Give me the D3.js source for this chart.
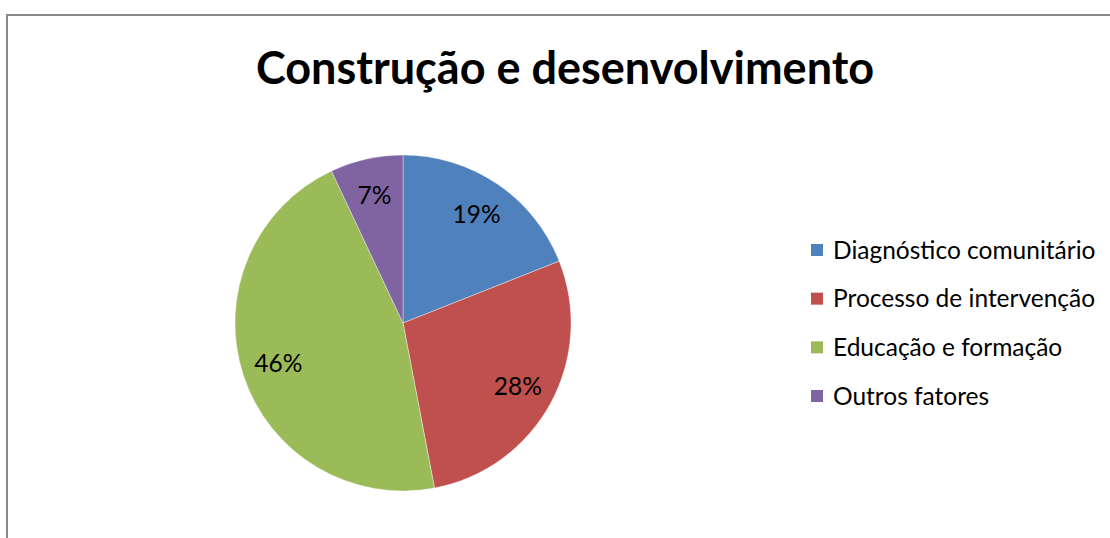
<!DOCTYPE html>
<html>
<head>
<meta charset="utf-8">
<script src="https://cdn.jsdelivr.net/npm/d3@7"></script>
<style>
  html, body { margin: 0; padding: 0; background: #fff; }
  svg { display: block; }
</style>
</head>
<body>
<div id="chart"></div>
<script>
// Construção e desenvolvimento — pie chart
const categories = ['Diagnóstico comunitário', 'Processo de intervenção', 'Educação e formação', 'Outros fatores'];
const values = [19, 28, 46, 7];
const sliceColors = ['#4F81BD', '#C0504D', '#9BBB59', '#8064A2'];

const width = 1110, height = 538;
const font = 'Lato, "Open Sans", sans-serif';

const svg = d3.select('#chart').append('svg')
  .attr('width', width)
  .attr('height', height);

// Chart frame
svg.append('rect')
  .attr('x', 7).attr('y', 15)
  .attr('width', width + 20).attr('height', height + 20)
  .attr('fill', '#fff')
  .attr('stroke', '#898989')
  .attr('stroke-width', 2);

// Title
svg.append('text')
  .attr('x', 565).attr('y', 84)
  .attr('text-anchor', 'middle')
  .attr('font-family', font)
  .attr('font-weight', 'bold')
  .attr('font-size', 45)
  .attr('fill', '#000')
  .text('Construção e desenvolvimento');

// Pie
const cx = 403, cy = 323, r = 168;
const pie = d3.pie().sort(null).value(d => d.value);
const arcs = pie(categories.map((c, i) => ({ name: c, value: values[i] })));
const arc = d3.arc().innerRadius(0).outerRadius(r);
const labelArc = d3.arc().innerRadius(r * 0.78).outerRadius(r * 0.78);

const g = svg.append('g').attr('transform', `translate(${cx},${cy})`);

g.selectAll('path')
  .data(arcs)
  .join('path')
  .attr('d', arc)
  .attr('fill', (d, i) => sliceColors[i])
  .attr('stroke', 'rgba(255,255,255,0.5)')
  .attr('stroke-width', 0.75);

g.selectAll('text')
  .data(arcs)
  .join('text')
  .attr('transform', d => `translate(${labelArc.centroid(d)})`)
  .attr('text-anchor', 'middle')
  .attr('dy', '0.35em')
  .attr('font-family', font)
  .attr('font-size', 24.5)
  .attr('fill', '#000')
  .text(d => d.data.value + '%');

// Legend
const legend = svg.append('g');
const rowY = d3.scalePoint().domain(categories).range([250, 396]);

const item = legend.selectAll('g')
  .data(categories)
  .join('g')
  .attr('transform', d => `translate(811,${rowY(d)})`);

item.append('rect')
  .attr('x', 0).attr('y', -6)
  .attr('width', 12).attr('height', 12)
  .attr('fill', (d, i) => sliceColors[i]);

item.append('text')
  .attr('x', 22)
  .attr('dy', '0.36em')
  .attr('font-family', font)
  .attr('font-size', 24.5)
  .attr('fill', '#000')
  .text(d => d);
</script>
</body>
</html>
